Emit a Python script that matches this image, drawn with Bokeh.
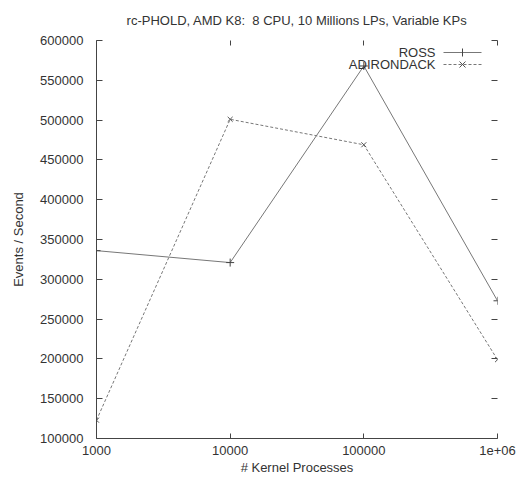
from bokeh.plotting import figure
from bokeh.models import (Range1d, FixedTicker, LinearAxis, LogAxis, Label, Arrow,
                          BasicTickFormatter)
from bokeh.embed import file_html
from bokeh.resources import INLINE

# ---- data ----
kernel_processes = [1000, 10000, 100000, 1000000]
ross = [336000, 321000, 568000, 273000]
adirondack = [123000, 501000, 469000, 199000]
x_tick_labels = ["1000", "10000", "100000", "1e+06"]
y_ticks = [100000, 150000, 200000, 250000, 300000, 350000,
           400000, 450000, 500000, 550000, 600000]
series_names = ["ROSS", "ADIRONDACK"]
chart_title = "rc-PHOLD, AMD K8:\u00a0 8 CPU, 10 Millions LPs, Variable KPs"

FONT = "Liberation Sans"
FS = "13px"
TXT = "#333333"
AX = "#444444"
LINE = "#777777"

W, H = 518, 478
ML, MR, MT, MB = 96, 21, 40, 40
FH = H - MT - MB

p = figure(width=W, height=H, x_axis_type="log",
           x_range=Range1d(kernel_processes[0], kernel_processes[-1]),
           y_range=Range1d(y_ticks[0], y_ticks[-1]),
           output_backend="svg", toolbar_location=None,
           min_border_left=ML, min_border_right=MR,
           min_border_top=MT, min_border_bottom=MB,
           title=chart_title)

p.title.align = "center"
p.title.vertical_align = "top"
p.title.text_font = FONT
p.title.text_font_size = FS
p.title.text_font_style = "normal"
p.title.text_color = TXT
p.title.standoff = 22

p.xgrid.visible = False
p.ygrid.visible = False
p.outline_line_color = None
p.background_fill_color = "white"

def style(ax, tick_in, labels=True):
    ax.major_tick_in = tick_in
    ax.major_tick_out = 0
    ax.minor_tick_line_color = None
    ax.major_tick_line_color = AX
    ax.axis_line_color = AX
    ax.major_label_text_font = FONT
    ax.major_label_text_font_size = FS if labels else "1px"
    ax.major_label_text_color = TXT
    if not labels:
        ax.major_label_text_alpha = 0
    ax.axis_label_text_font = FONT
    ax.axis_label_text_font_size = FS
    ax.axis_label_text_font_style = "normal"
    ax.axis_label_text_color = TXT

yax = p.yaxis[0]
yax.ticker = FixedTicker(ticks=y_ticks)
yax.formatter = BasicTickFormatter(use_scientific=False)
style(yax, 6)
yax.major_label_standoff = 13
yax.axis_label = "Events / Second"
yax.axis_label_standoff = 11

xax = p.xaxis[0]
xax.ticker = FixedTicker(ticks=kernel_processes)
xax.major_label_overrides = {k: lab for k, lab in zip(kernel_processes, x_tick_labels)}
style(xax, 5)
xax.major_label_standoff = 7
xax.axis_label = "# Kernel Processes"
xax.axis_label_standoff = 2

rax = LinearAxis(ticker=FixedTicker(ticks=y_ticks))
style(rax, 6, labels=False)
rax.axis_line_color = None
rax.major_label_standoff = 0
p.add_layout(rax, "right")

tax = LogAxis(ticker=FixedTicker(ticks=kernel_processes))
style(tax, 5, labels=False)
tax.axis_line_color = None
tax.major_label_standoff = 0
p.add_layout(tax, "above")

# ---- series ----
p.line(kernel_processes, ross, line_color=LINE, line_width=1)
p.scatter(kernel_processes, ross, marker="cross", size=8, line_color="#444444")
p.line(kernel_processes, adirondack, line_color=LINE, line_width=1, line_dash="3 2")
p.scatter(kernel_processes, adirondack, marker="x", size=7, line_color="#555555")

# ---- gnuplot-style key (text, then sample) ----
def seg(x0, y0, x1, y1, dash="solid", color=LINE):
    p.add_layout(Arrow(end=None, start=None, x_start=x0, y_start=y0, x_end=x1, y_end=y1,
                       start_units="screen", end_units="screen",
                       line_color=color, line_width=1, line_dash=dash))

key_text_x = 339
key_x0, key_x1 = 347, 385
key_rows = [FH - 12, FH - 24]
for name, ky in zip(series_names, key_rows):
    p.add_layout(Label(x=key_text_x, y=ky, x_units="screen", y_units="screen",
                       text=name, text_align="right", text_baseline="middle",
                       text_font=FONT, text_font_size=FS, text_color=TXT))
mid = (key_x0 + key_x1) / 2
ky = key_rows[0]
seg(key_x0, ky, key_x1, ky)
seg(mid, ky - 4, mid, ky + 4, color="#444444")
ky = key_rows[1]
seg(key_x0, ky, key_x1, ky, dash="3 2")
seg(mid - 3, ky - 3, mid + 3, ky + 3, color="#555555")
seg(mid - 3, ky + 3, mid + 3, ky - 3, color="#555555")

open("out.html", "w").write(file_html(p, INLINE))
